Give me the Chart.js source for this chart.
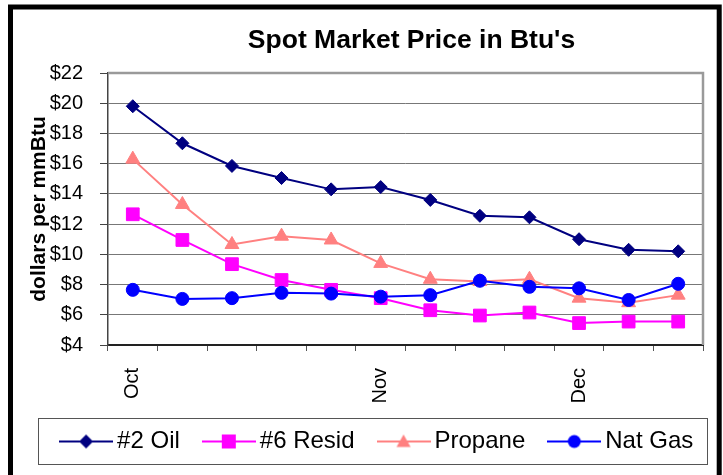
<!DOCTYPE html>
<html lang="en">
<head>
    <meta charset="UTF-8">
    <title>Spot Market Price in Btu's</title>
    <script src="https://cdn.jsdelivr.net/npm/chart.js"></script>
    <style>
        body { margin: 0; background: #fff; }
    </style>
</head>
<body>
    <canvas id="chart" width="723" height="475"></canvas>

    <script>
        // x categories (weekly points, only month starts labelled)
        const weeks = ['Oct', '', '', '', '', 'Nov', '', '', '', 'Dec', '', ''];

        // $ per mmBtu
        const oil2 = [19.8, 17.35, 15.85, 15.05, 14.3, 14.45, 13.6, 12.55, 12.45, 11.0, 10.3, 10.2];
        const resid6 = [12.65, 10.95, 9.35, 8.3, 7.65, 7.1, 6.3, 5.95, 6.15, 5.45, 5.55, 5.55];
        const propane = [16.3, 13.3, 10.65, 11.2, 10.95, 9.4, 8.35, 8.2, 8.35, 7.1, 6.8, 7.3];
        const natGas = [7.65, 7.05, 7.1, 7.45, 7.4, 7.2, 7.3, 8.25, 7.85, 7.75, 6.98, 8.05];

        const yMin = 4, yMax = 22, yStep = 2;

        const FONT = '"Liberation Sans", Arial, sans-serif';
        Chart.defaults.font.family = FONT;
        Chart.defaults.color = '#000';

        // little line + marker picture used as the legend symbol
        function legendSymbol(color, shape) {
            const c = document.createElement('canvas');
            c.width = 54; c.height = 20;
            const g = c.getContext('2d');
            g.strokeStyle = color;
            g.lineWidth = 2;
            g.beginPath(); g.moveTo(0, 10); g.lineTo(54, 10); g.stroke();
            g.fillStyle = color;
            g.beginPath();
            if (shape === 'rectRot') {
                g.moveTo(27, 3); g.lineTo(34, 10); g.lineTo(27, 17); g.lineTo(20, 10);
            } else if (shape === 'rect') {
                g.rect(20, 3, 14, 14);
            } else if (shape === 'triangle') {
                g.moveTo(27, 3); g.lineTo(34, 15.5); g.lineTo(20, 15.5);
            } else {
                g.arc(27, 10, 6.5, 0, Math.PI * 2);
            }
            g.closePath();
            g.fill();
            return c;
        }

        function series(label, data, color, style, radius, order) {
            return {
                label, data, order,
                borderColor: color,
                backgroundColor: color,
                borderWidth: 2,
                pointStyle: style,
                pointRadius: radius,
                pointBorderWidth: 1,
                pointBackgroundColor: color,
                pointBorderColor: color,
                tension: 0
            };
        }

        const framePlugin = {
            id: 'frame',
            afterLayout(chart) {
                chart.titleBlock.left += 60;
                chart.titleBlock.right += 60;
                chart.legend.left += 28.7;
                chart.legend.right += 28.7;
                chart.legend.top -= 7.5;
                chart.legend.bottom -= 7.5;
            },
            beforeDraw(chart) {
                const ctx = chart.ctx;
                ctx.save();
                ctx.fillStyle = '#fff';
                ctx.fillRect(0, 0, chart.width, chart.height);
                ctx.restore();
            },
            beforeDatasetsDraw(chart) {
                const {ctx, chartArea: a} = chart;
                ctx.save();
                ctx.strokeStyle = '#9a9a9a';
                ctx.lineWidth = 2.5;
                ctx.beginPath();
                ctx.moveTo(a.left, a.top);
                ctx.lineTo(a.right, a.top);
                ctx.lineTo(a.right, a.bottom);
                ctx.stroke();
                ctx.restore();
            },
            afterDraw(chart) {
                const ctx = chart.ctx;
                ctx.save();
                ctx.strokeStyle = '#000';
                ctx.lineWidth = 5;
                ctx.strokeRect(10.5, 7, 708.7, 520);
                ctx.strokeStyle = '#555';
                ctx.lineWidth = 1;
                ctx.strokeRect(38.5, 418.5, 669, 46);
                ctx.restore();
            }
        };

        new Chart(document.getElementById('chart'), {
            type: 'line',
            data: {
                labels: weeks,
                datasets: [
                    series('#2 Oil', oil2, '#000080', 'rectRot', 6.5, 4),
                    series('#6 Resid', resid6, '#ff00ff', 'rect', 9, 3),
                    series('Propane', propane, '#ff8080', 'triangle', 8, 2),
                    series('Nat Gas', natGas, '#0000ff', 'circle', 6.5, 1)
                ]
            },
            options: {
                responsive: false,
                animation: false,
                events: [],
                layout: { padding: { left: 0, right: 20, top: 0, bottom: 4 } },
                plugins: {
                    tooltip: { enabled: false },
                    title: {
                        display: true,
                        text: "Spot Market Price in Btu's",
                        font: { size: 26.5, weight: 'bold' },
                        padding: { top: 25, bottom: 16.2 }
                    },
                    legend: {
                        position: 'bottom',
                        labels: {
                            usePointStyle: true,
                            pointStyleWidth: 38,
                            padding: 30,
                            font: { size: 24 },
                            color: '#000',
                            generateLabels(chart) {
                                const shapes = ['rectRot', 'rect', 'triangle', 'circle'];
                                return chart.data.datasets.map((ds, i) => ({
                                    text: ds.label,
                                    pointStyle: legendSymbol(ds.borderColor, shapes[i]),
                                    fillStyle: ds.borderColor,
                                    strokeStyle: ds.borderColor,
                                    lineWidth: 0,
                                    fontColor: '#000',
                                    hidden: false,
                                    datasetIndex: i
                                }));
                            }
                        }
                    }
                },
                scales: {
                    x: {
                        offset: true,
                        afterFit(scale) { scale.height = 62; },
                        grid: {
                            offset: true,
                            drawOnChartArea: false,
                            tickLength: 6,
                            tickColor: '#555'
                        },
                        border: { color: '#222', width: 2 },
                        ticks: {
                            autoSkip: false,
                            minRotation: 90,
                            maxRotation: 90,
                            padding: 17,
                            font: { size: 20 }
                        }
                    },
                    y: {
                        min: yMin,
                        max: yMax,
                        afterFit(scale) { scale.width = 108; },
                        title: {
                            display: true,
                            text: 'dollars per mmBtu',
                            font: { size: 21, weight: 'bold' },
                            padding: { top: 27, bottom: 0 }
                        },
                        grid: {
                            color: '#777',
                            tickLength: 8,
                            tickColor: '#444'
                        },
                        border: { color: '#444', width: 1.5 },
                        ticks: {
                            stepSize: yStep,
                            padding: 17,
                            font: { size: 20 },
                            callback: v => '$' + v
                        }
                    }
                }
            },
            plugins: [framePlugin]
        });
    </script>
</body>
</html>
